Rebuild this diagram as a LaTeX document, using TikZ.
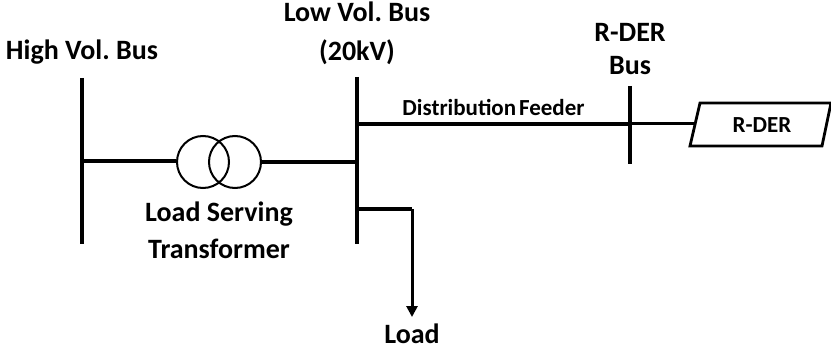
\documentclass[tikz,border=0pt]{standalone}
\usepackage{fontspec}
\setmainfont{Carlito}
\usetikzlibrary{arrows.meta}
\tikzset{
  x=1pt,y=-1pt,
  lbl/.style={font=\fontsize{28}{37}\selectfont\bfseries\frenchspacing,align=center,inner sep=0pt,text=black},
  smalllbl/.style={font=\fontsize{23}{26}\selectfont\bfseries,align=center,inner sep=0pt,text=black},
  bus/.style={line width=3.6pt,draw=black},
  wire/.style={line width=3.4pt,draw=black},
  thin wire/.style={line width=3pt,draw=black},
  winding/.style={circle,draw=black,line width=2pt,minimum size=52pt,inner sep=0pt},
}
\begin{document}
\begin{tikzpicture}
\useasboundingbox (0,0) rectangle (831,345);
% buses
\coordinate (hvt) at (82,78); \coordinate (hvb) at (82,244);
\coordinate (lvt) at (357,77); \coordinate (lvb) at (357,244);
\coordinate (rdt) at (630,86); \coordinate (rdb) at (630,164);
\draw[bus] (hvt) -- (hvb);
\draw[bus] (lvt) -- (lvb);
\draw[bus] (rdt) -- (rdb);
% transformer
\node[winding] (w1) at (203,162) {};
\node[winding] (w2) at (235,162) {};
\coordinate (hvj) at (82,161); \coordinate (lvj) at (357,162);
\draw[wire] (hvj) -- (w1.west |- hvj);
\draw[wire] (w2.east |- lvj) -- (lvj);
% feeder
\coordinate (lvf) at (357,124); \coordinate (rdj) at (630,124);
\draw[wire] (lvf) -- (rdj);
% R-DER
\draw[line width=2.8pt,fill=white,draw=black] (700,103) -- (831,103) -- (822,146) -- (690,146) -- cycle;
\coordinate (der) at (695,124);
\draw[thin wire] (rdj) -- (der);
\node[smalllbl] (derl) at (762,125) {R-DER};
% load
\coordinate (lvl) at (357,209); \coordinate (lc) at (412,209); \coordinate (lt) at (412,317);
\draw[wire,line join=miter] (lvl) -- (lc);
\draw[thin wire,-{Triangle[length=11pt,width=11pt]}] (lc) -- (lt);
% labels
\node[lbl] (hv) at (82,52) {High Vol. Bus};
\node[lbl] (lv) at (357,33.5) {Low Vol. Bus\\[2pt](20kV)};
\node[lbl] (rd) at (630,49.5) {R-DER\\[-4pt]Bus};
\node[lbl] (ls) at (219,230) {Load Serving\\Transformer};
\node[lbl,anchor=base] (ld) at (412,343) {Load};
\node[smalllbl] (df) at (493.5,107) {Distribution\hspace{-0.1em} Feeder};
\end{tikzpicture}
\end{document}
